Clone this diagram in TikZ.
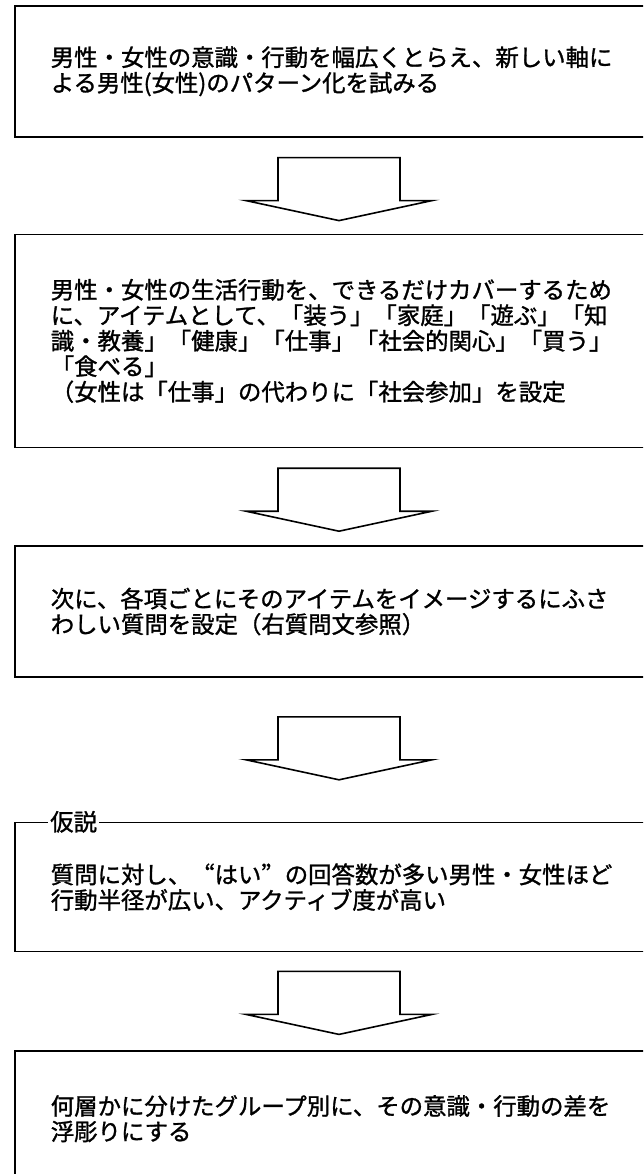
\documentclass[tikz,border=0pt]{standalone}
\usepackage{fontspec}
\setmainfont{Noto Sans CJK JP}[FakeBold=1.2]
\usepackage{tikz}
\usetikzlibrary{calc, positioning}
\newcommand{\boxfont}{\fontsize{23.4}{25.5}\selectfont}
\newcommand{\fwq}[1]{{\addfontfeatures{CharacterWidth=Full}#1}}
\tikzset{
  flowbox/.style={draw, line width=1.6pt, anchor=north west, align=left,
    text width=608pt, inner xsep=36pt, inner ysep=0pt, font=\boxfont},
  boxtag/.style={fill=white, inner xsep=2pt, inner ysep=1pt, anchor=west, font=\boxfont},
  downarrow/.pic={
    \draw[line width=1.6pt, line join=miter]
      (-61,0) -- (61,0) -- (61,-43) -- (93,-43) -- (0,-63)
      -- (-93,-43) -- (-61,-43) -- cycle;
  }
}

\begin{document}
\begin{tikzpicture}[x=1pt, y=1pt]
  \path[use as bounding box, fill=white] (0,0) rectangle (643,-1174);
  \clip (0,0) rectangle (643,-1174);

  % --- Boxes ---
  \node[flowbox, minimum height=131pt] (b1) at (14,-5)
    {男性・女性の意識・行動を幅広くとらえ、新しい軸に\\
     よる男性(女性)のパターン化を試みる};
  \node[flowbox, minimum height=213pt, below=96pt of b1] (b2)
    {男性・女性の生活行動を、できるだけカバーするため\\
     に、アイテムとして、「装う」「家庭」「遊ぶ」「知\\
     識・教養」「健康」「仕事」「社会的関心」「買う」\\
     「食べる」\\
     （女性は「仕事」の代わりに「社会参加」を設定};
  \node[flowbox, minimum height=131pt, below=97pt of b2] (b3)
    {次に、各項ごとにそのアイテムをイメージするにふさ\\
     わしい質問を設定（右質問文参照）};
  \node[flowbox, minimum height=129pt, below=144pt of b3] (b4)
    {質問に対し、\fwq{“}はい\fwq{”}の回答数が多い男性・女性ほど\\
     行動半径が広い、アクティブ度が高い};
  \node[boxtag] (tag4) at ($(b4.north west)+(34,0)$) {仮説};
  \node[flowbox, minimum height=135pt, below=98pt of b4] (b5)
    {何層かに分けたグループ別に、その意識・行動の差を\\
     浮彫りにする};

  % --- Arrows ---
  \pic at ($(b1.south west)+(325,-20)$) {downarrow};
  \pic at ($(b2.south west)+(325,-20)$) {downarrow};
  \pic at ($(b3.south west)+(325,-39)$) {downarrow};
  \pic at ($(b4.south west)+(325,-19)$) {downarrow};
\end{tikzpicture}
\end{document}
